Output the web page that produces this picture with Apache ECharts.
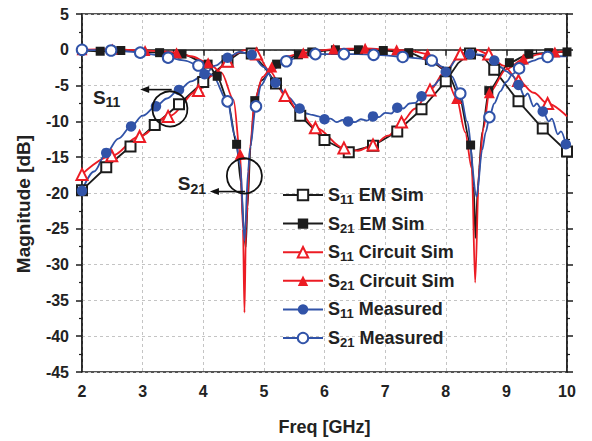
<!DOCTYPE html>
<html><head><meta charset="utf-8">
<script src="https://cdn.jsdelivr.net/npm/echarts@6/dist/echarts.min.js"></script>
<style>html,body{margin:0;padding:0;background:#fff}#c{width:592px;height:441px}</style>
</head><body><div id="c"></div>
<script>
// ---------- data (frequency GHz, magnitude dB) ----------
const seriesNames = ['S11 EM Sim','S21 EM Sim','S11 Circuit Sim','S21 Circuit Sim','S11 Measured','S21 Measured'];
const xTicks = [2,3,4,5,6,7,8,9,10];
const yTicks = [5,0,-5,-10,-15,-20,-25,-30,-35,-40,-45];

// S11 EM Sim
const s11EmMarks = [[2.0,-19.6],[2.4,-16.4],[2.8,-13.5],[3.2,-10.5],[3.6,-7.6],[4.0,-4.5],[4.4,-1.6],[4.8,-0.5],[5.2,-4.7],[5.6,-9.2],[6.0,-12.6],[6.4,-14.3],[6.8,-13.4],[7.2,-11.4],[7.6,-8.3],[8.0,-4.4],[8.4,-0.5],[8.8,-2.8],[9.2,-7.2],[9.6,-11.0],[10.0,-14.2]];
const s11EmLine = [[4.6,-0.4],[5.0,-2.3],[8.2,-1.9],[8.6,-0.8]];
// S21 EM Sim
const s21EmMarks = [[2.0,-0.1],[2.30,-0.2],[2.64,-0.1],[3.28,-0.4],[3.65,-0.6],[4.08,-2.0],[4.23,-3.7],[4.55,-13.2],[4.85,-7.1],[5.21,-2.0],[5.57,-0.7],[5.79,-0.3],[6.18,0],[6.56,0],[6.97,-0.1],[7.39,-0.4],[7.73,-1.5],[8.02,-3.0],[8.41,-13.3],[8.71,-5.7],[9.05,-1.8],[9.37,-0.6],[9.70,-0.4],[10.0,-0.3]];
const s21EmLine = [[4.40,-7.0],[4.62,-18.5],[4.67,-25],[4.70,-27.6],[4.73,-22],[4.78,-13.5],[4.96,-4.3],[8.22,-6.4],[8.46,-19],[8.49,-26.3],[8.53,-19],[8.60,-11.5]];
// S11 Circuit Sim
const s11CirMarks = [[2.0,-17.4],[2.49,-14.8],[2.95,-12.1],[3.42,-9.3],[3.92,-5.7],[4.40,-1.6],[4.88,-0.6],[5.35,-6.4],[5.85,-10.9],[6.32,-13.7],[6.80,-13.3],[7.27,-10.1],[7.74,-5.6],[8.24,-0.6],[8.71,-0.6],[9.20,-4.3],[9.68,-7.5]];
const s11CirLine = [[4.15,-3.6],[4.55,-0.5],[4.68,-0.05],[5.1,-3.0],[5.6,-8.9],[6.55,-14.1],[7.05,-12.0],[7.5,-8.2],[8.0,-2.9],[8.47,0.1],[8.95,-2.2],[9.45,-6.0],[10.0,-9.3]];
// S21 Circuit Sim
const s21CirMarks = [[2.0,0],[2.5,0.1],[3.04,-0.1],[3.56,-0.4],[4.08,-1.8],[4.61,-14.6],[5.13,-2.4],[5.65,-0.4],[6.15,0.1],[6.67,0.2],[7.19,0],[7.70,-0.6],[8.18,-6.8],[8.72,-6.0],[9.28,-1.3],[9.80,-0.3]];
const s21CirLine = [[2.25,0.05],[2.75,0],[3.3,-0.2],[3.8,-0.9],[4.3,-3.2],[4.5,-7.0],[4.655,-25],[4.68,-36.7],[4.705,-25],[4.77,-13.8],[4.85,-6.9],[4.98,-3.8],[5.4,-0.9],[5.9,-0.1],[6.4,0.15],[6.9,0.1],[7.45,-0.2],[7.95,-2.5],[8.32,-11.5],[8.43,-16.6],[8.485,-32.5],[8.55,-16.5],[8.62,-11],[9.0,-2.7],[9.55,-0.6],[10.0,-0.2]];
// S11 Measured
const s11MeasMarks = [[2.0,-19.7],[2.40,-14.4],[2.81,-10.7],[3.22,-7.9],[3.60,-5.6],[4.02,-3.4],[4.40,-1.1],[4.80,-0.7],[5.19,-4.6],[5.59,-8.2],[6.00,-9.7],[6.39,-10.0],[6.80,-9.3],[7.20,-8.1],[7.60,-6.5],[8.00,-3.1],[8.40,-0.6],[8.80,-1.5],[9.20,-4.9],[9.60,-8.6],[9.98,-13.2]];
const s11MeasLine = [[2.2,-17.0],[2.6,-12.4],[3.0,-9.2],[3.4,-6.8],[3.8,-4.4],[4.2,-2.2],[4.6,-0.3],[5.0,-2.4],[5.4,-6.6],[5.7,-8.9],[5.8,-9.1],[5.9,-9.3],[6.1,-9.6],[6.2,-10.1],[6.3,-9.8],[6.5,-10.1],[6.6,-9.7],[6.7,-9.9],[6.9,-9.4],[7.0,-8.8],[7.1,-8.9],[7.3,-8.2],[7.4,-7.5],[7.5,-7.4],[7.7,-6.0],[7.8,-5.0],[7.9,-4.2],[8.2,-1.2],[8.6,-0.7],[8.9,-2.4],[9.0,-3.0],[9.1,-3.6],[9.3,-6.5],[9.35,-6.1],[9.45,-7.9],[9.5,-7.5],[9.7,-10.0],[9.75,-9.6],[9.85,-11.8],[9.9,-11.4]];
// S21 Measured
const s21MeasMarks = [[2.0,0],[2.48,-0.1],[2.96,-0.4],[3.42,-1.1],[3.92,-2.2],[4.40,-7.2],[4.87,-7.9],[5.37,-1.6],[5.85,-0.6],[6.32,-0.6],[6.81,-0.7],[7.29,-1.0],[7.77,-1.5],[8.24,-6.1],[8.72,-9.4],[9.21,-2.6],[9.68,-1.0]];
const s21MeasLine = [[2.25,-0.05],[2.7,-0.2],[3.2,-0.7],[3.7,-1.5],[4.15,-3.5],[4.52,-12],[4.61,-16],[4.68,-26.7],[4.74,-17],[4.77,-13.8],[4.95,-5.0],[5.1,-3.0],[5.6,-0.9],[6.1,-0.6],[6.55,-0.6],[7.05,-0.8],[7.55,-1.2],[7.95,-2.4],[8.1,-3.7],[8.35,-10],[8.51,-20.5],[8.6,-14],[8.66,-11.5],[8.8,-7.5],[8.9,-5.8],[9.0,-4.5],[9.1,-3.4],[9.3,-2.0],[9.45,-1.5],[9.55,-1.2],[9.85,-0.9],[10.0,-0.9]];

// annotation anchors (data coordinates)
const annotations = [
  {label:'11', text:[2.18,-6.6], circle:[3.45,-8.14], arrowFrom:[3.48,-5.56], arrowTo:[2.96,-5.56]},
  {label:'21', text:[3.58,-18.7], circle:[4.678,-17.5], arrowFrom:[4.69,-19.8], arrowTo:[4.11,-19.8]}
];

// ---------- chart ----------
const BLACK='#1c1c1c', RED='#ec1c24', BLUE='#3153a8';
const FONT='"Liberation Sans", Arial, sans-serif';

function build(linePts, markPts){
  const items = linePts.map(p=>({value:p, symbol:'none'})).concat(markPts.map(p=>({value:p})));
  items.sort((a,b)=>a.value[0]-b.value[0]);
  return items;
}
function mkSeries(name, color, symbol, size, linePts, markPts, smooth){
  return {
    name, type:'line', data: build(linePts, markPts), symbol, symbolSize:size,
    showSymbol:true, showAllSymbol:true, smooth: smooth, smoothMonotone: 'x',
    lineStyle:{color, width:1.8}, itemStyle:{color, borderWidth:1.3},
    emphasis:{disabled:true}, animation:false, z: 3
  };
}

const chart = echarts.init(document.getElementById('c'), null, {renderer:'svg'});
const axisCommon = {
  type:'value', axisLine:{show:true, lineStyle:{color:BLACK, width:1.5}},
  axisTick:{show:true, inside:false, length:6, lineStyle:{color:BLACK, width:1.5}},
  minorTick:{show:true, splitNumber:2, length:3, lineStyle:{color:BLACK, width:1.2}},
};
chart.setOption({
  animation:false,
  backgroundColor:'#fff',
  grid:{left:82, right:25, top:14, bottom:67, show:true, borderColor:BLACK, borderWidth:1.5, containLabel:false},
  xAxis:[Object.assign({}, axisCommon, {
    min:2, max:10, interval:1,
    axisLabel:{fontFamily:FONT, fontWeight:'bold', fontSize:16, color:'#222', margin:11},
    splitLine:{show:true, lineStyle:{color:'#c4c4c4', type:[3,3], width:1}},
    name:'Freq [GHz]', nameLocation:'middle', nameGap:46,
    nameTextStyle:{fontFamily:FONT, fontWeight:'bold', fontSize:18, color:'#222'}
  })],
  yAxis:[Object.assign({}, axisCommon, {
    min:-45, max:5, interval:5, position:'left',
    axisLabel:{fontFamily:FONT, fontWeight:'bold', fontSize:16, color:'#222', margin:13},
    splitLine:{show:true, lineStyle:{color:'#c4c4c4', type:[3,3], width:1}},
    name:'Magnitude [dB]', nameLocation:'middle', nameGap:49,
    nameTextStyle:{fontFamily:FONT, fontWeight:'bold', fontSize:19, color:'#222', padding:[0,22,0,0]}
  }), Object.assign({}, axisCommon, {
    min:-45, max:5, interval:5, position:'right', axisLabel:{show:false}, splitLine:{show:false}
  })],
  legend:{
    orient:'vertical', left:277, top:181, itemWidth:40, itemHeight:13, itemGap:8.6,
    data: seriesNames, selectedMode:false,
    formatter: n => '{m|S}{s|' + n.slice(1,3) + '}{m| ' + n.slice(4) + '}',
    textStyle:{fontFamily:FONT, fontWeight:'bold', fontSize:18, color:'#222',
      rich:{
        m:{fontFamily:FONT, fontWeight:'bold', fontSize:18, color:'#222', lineHeight:22},
        s:{fontFamily:FONT, fontWeight:'bold', fontSize:13, color:'#222', lineHeight:13, verticalAlign:'bottom'}
      }}
  },
  series:[
    mkSeries(seriesNames[0], BLACK, 'emptyRect', 10, s11EmLine, s11EmMarks, false),
    mkSeries(seriesNames[1], BLACK, 'rect', 9, s21EmLine, s21EmMarks, 0.25),
    mkSeries(seriesNames[2], RED, 'emptyTriangle', 11, s11CirLine, s11CirMarks, 0.35),
    mkSeries(seriesNames[3], RED, 'triangle', 11, s21CirLine, s21CirMarks, 0.3),
    mkSeries(seriesNames[4], BLUE, 'circle', 10.5, s11MeasLine, s11MeasMarks, 0.35),
    mkSeries(seriesNames[5], BLUE, 'emptyCircle', 10.5, s21MeasLine, s21MeasMarks, 0.3)
  ]
});

// annotations (circles, arrows, labels) placed through the axes
const toPx = v => chart.convertToPixel({xAxisIndex:0, yAxisIndex:0}, v);
const gfx = [];
annotations.forEach(a=>{
  const c = toPx(a.circle), f = toPx(a.arrowFrom), t = toPx(a.arrowTo), tx = toPx(a.text);
  gfx.push({type:'circle', shape:{cx:c[0], cy:c[1], r:17.5}, style:{fill:'none', stroke:'#111', lineWidth:1.8}, z:10});
  gfx.push({type:'line', shape:{x1:f[0], y1:f[1], x2:t[0]+7, y2:t[1]}, style:{stroke:'#111', lineWidth:1.6}, z:10});
  gfx.push({type:'polygon', shape:{points:[[t[0],t[1]],[t[0]+9,t[1]-3.5],[t[0]+9,t[1]+3.5]]}, style:{fill:'#111'}, z:10});
  gfx.push({type:'text', x:tx[0], y:tx[1], z:10, style:{
    text:'{m|S}{s|'+a.label+'}', verticalAlign:'middle', align:'left',
    rich:{m:{fontFamily:FONT, fontWeight:'bold', fontSize:19, fill:'#222', lineHeight:24},
          s:{fontFamily:FONT, fontWeight:'bold', fontSize:14, fill:'#222', lineHeight:14, verticalAlign:'bottom'}}
  }});
});
chart.setOption({graphic:gfx});
</script></body></html>
